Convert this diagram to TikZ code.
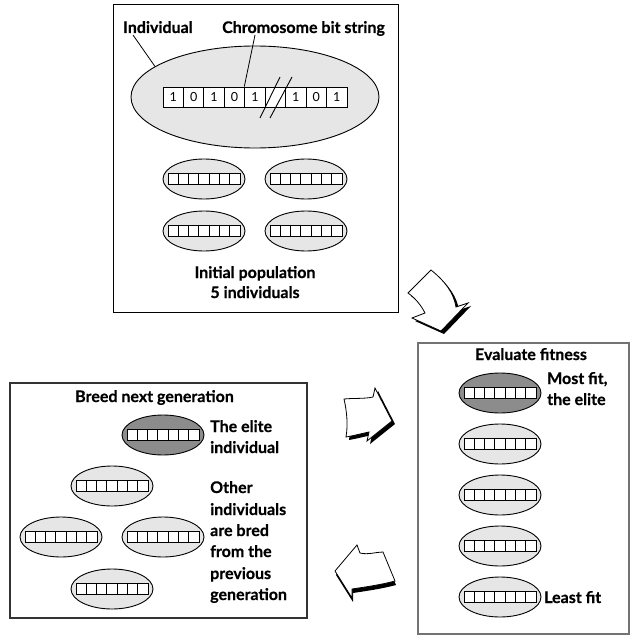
\documentclass[tikz,border=0pt]{standalone}
\usepackage{fontspec}
\setmainfont{Lato}[BoldFeatures={FakeBold=0.5}]
\usetikzlibrary{shapes.geometric,calc}
\definecolor{ellfill}{HTML}{E6E6E6}
\definecolor{elitefill}{HTML}{8C8C8C}
\definecolor{boxline}{HTML}{333333}
\tikzset{
  x=1pt,y=-1pt,
  lbl/.style={font=\fontsize{16}{19}\selectfont\bfseries, inner sep=0pt},
  ind/.style={ellipse, draw=black, line width=0.9pt, fill=ellfill, minimum width=82pt, minimum height=40pt, inner sep=0pt},
  eliteind/.style={ind, fill=elitefill},
  cell/.style={draw=black, fill=white, line width=0.8pt},
  bitcell/.style={draw=black, fill=white, line width=0.9pt, minimum width=20.44pt, minimum height=20pt, inner sep=0pt, font=\fontsize{12.5}{14}\selectfont},
  boxframe/.style={draw=boxline, line width=1.2pt},
  leader/.style={draw=black, line width=0.8pt},
  blockarrow/.style={fill=white, draw=black, line width=0.8pt, line join=miter},
  arrowshadow/.style={fill=black},
}
\newcommand\gaindiv[4]{%
  \node[#2] (#1) at (#3,#4) {};
  \foreach \k in {0,...,6} {\draw[cell] ({#3-36+\k*10.2857},{#4-5.5}) rectangle ++(10.2857,11);}
}
\begin{document}
\begin{tikzpicture}
\useasboundingbox (0,0) rectangle (632,639);
\fill[white] (0,0) rectangle (632,639);

% ---------- top box ----------
\draw[boxframe, draw=black, line width=1pt] (113,5) rectangle (398,312);
\node[ind, minimum width=248pt, minimum height=102pt] (bigell) at (255,97) {};
\foreach \b [count=\i] in {1,0,1,0,1,{},1,0,1} {
  \node[bitcell] (c\i) at ({163+20.44*(\i-0.5)},97) {\b};
}
\draw[line width=0.9pt] (260,118) -- (280,77);
\draw[line width=0.9pt] (270,118) -- (292,77);
\node[lbl, anchor=base west] (lblInd) at (123,33) {Individual};
\node[lbl, anchor=base west] (lblChr) at (222,33) {Chromosome bit string};
\draw[leader] ($(lblInd.base west)+(10,2)$) -- (bigell.163.5);
\draw[leader] ($(lblChr.base west)+(33,2)$) -- (c5.north west);
\gaindiv{t1}{ind}{204}{179}
\gaindiv{t2}{ind}{306}{179}
\gaindiv{t3}{ind}{204}{231}
\gaindiv{t4}{ind}{306}{231}
\node[lbl, anchor=base] (lblInit1) at (255,278) {Initial population};
\node[lbl, anchor=base] (lblInit2) at (255,298) {5 individuals};

% ---------- right box ----------
\draw[boxframe, draw=black!55, line width=1.5pt] (418,343) rectangle (629,634);
\node[lbl, anchor=base] (lblEval) at (531,360) {Evaluate fitness};
\gaindiv{r1}{eliteind}{500}{393}
\gaindiv{r2}{ind}{500}{444}
\gaindiv{r3}{ind}{500}{495}
\gaindiv{r4}{ind}{500}{546}
\gaindiv{r5}{ind}{500}{597}
\node[lbl, anchor=base west] (lblMost1) at (547,384) {Most fit,};
\node[lbl, anchor=base west] (lblMost2) at (547,405) {the elite};
\node[lbl, anchor=base west] (lblLeast) at (544,603) {Least fit};

% ---------- left box ----------
\draw[boxframe] (10,383) rectangle (307,618);
\node[lbl, anchor=base west] (lblBreed) at (75,402) {Breed next generation};
\gaindiv{l1}{eliteind}{163}{435}
\gaindiv{l2}{ind}{112}{486}
\gaindiv{l3}{ind}{61}{537}
\gaindiv{l4}{ind}{163}{537}
\gaindiv{l5}{ind}{112}{589}
\node[lbl, anchor=base west] (lblE1) at (210,432) {The elite};
\node[lbl, anchor=base west] (lblE2) at (210,453) {individual};
\node[lbl, anchor=base west] (lblO1) at (210,493) {Other};
\node[lbl, anchor=base west] (lblO2) at (210,515) {individuals};
\node[lbl, anchor=base west] (lblO3) at (210,536) {are bred};
\node[lbl, anchor=base west] (lblO4) at (210,557) {from the};
\node[lbl, anchor=base west] (lblO5) at (210,579) {previous};
\node[lbl, anchor=base west] (lblO6) at (210,600) {generation};

% ---------- block arrows ----------
% arrow 1: from top box down to evaluate box
\fill[arrowshadow, shift={(3,3)}] (408,293) -- (431,270) .. controls (446,282) and (454,294) .. (456,307) -- (468,303) -- (441,331) -- (412,318) -- (425,313) .. controls (421,305) and (415,298) .. cycle;
\path[blockarrow] (408,293) -- (431,270) .. controls (446,282) and (454,294) .. (456,307) -- (468,303) -- (441,331) -- (412,318) -- (425,313) .. controls (421,305) and (415,298) .. cycle;
% arrow 2: pointing right
\fill[arrowshadow, shift={(3,3)}] (344,399) .. controls (354,398) and (364,399) .. (373,397) -- (375,388) -- (392,421) -- (367,441) -- (369,432) .. controls (360,434) and (352,436) .. (346,437) .. controls (348,425) and (347,412) .. cycle;
\path[blockarrow] (344,399) .. controls (354,398) and (364,399) .. (373,397) -- (375,388) -- (392,421) -- (367,441) -- (369,432) .. controls (360,434) and (352,436) .. (346,437) .. controls (348,425) and (347,412) .. cycle;
% arrow 3: pointing left
\fill[arrowshadow, shift={(1,4)}] (383,552) -- (395,581) .. controls (380,585) and (365,587) .. (352,589) -- (352,598) -- (335,571) -- (357,545) -- (360,553) .. controls (368,555) and (376,552) .. cycle;
\path[blockarrow] (383,552) -- (395,581) .. controls (380,585) and (365,587) .. (352,589) -- (352,598) -- (335,571) -- (357,545) -- (360,553) .. controls (368,555) and (376,552) .. cycle;
\end{tikzpicture}
\end{document}
